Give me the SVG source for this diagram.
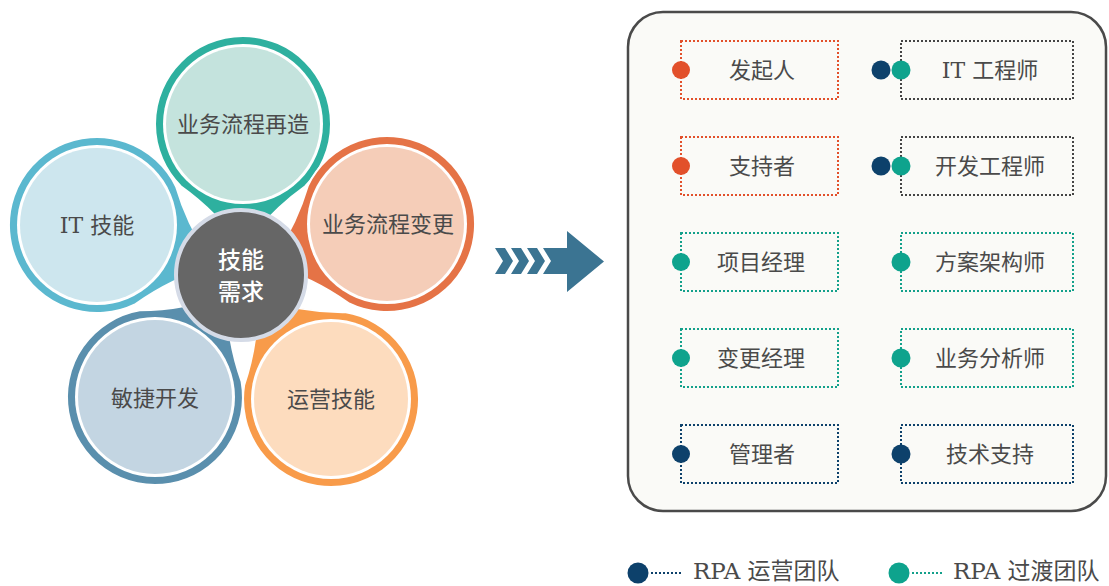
<svg xmlns="http://www.w3.org/2000/svg" width="1109" height="586" viewBox="0 0 1109 586">
<defs>
<style>
.lbl{font-family:"DejaVu Serif","Noto Sans CJK SC",serif;font-size:22px;fill:#4a4a4a;text-anchor:middle}
.ctr{font-family:"Noto Sans CJK SC",sans-serif;font-size:23px;fill:#ffffff;text-anchor:middle;font-weight:500}
.box{fill:none;stroke-width:2;stroke-dasharray:2 2}
.red{stroke:#e2502b}
.gry{stroke:#444444}
.tea{stroke:#13a08b}
.nav{stroke:#0d416b}
.petal{stroke:#ffffff;stroke-width:2}
.wr{fill:#ffffff}
.leg{font-family:"DejaVu Serif","Noto Sans CJK SC",serif;font-size:23px;fill:#4a4a4a}
</style>
<path id="pt" d="M62.2,-62.2 A88,88 0 1,0 62.2,62.2 Q88,26 125,0 Q88,-26 62.2,-62.2 Z"/>
</defs>

<g id="petal-top">
<use href="#pt" class="petal" fill="#2eb09f" transform="translate(243,124) rotate(90)"/>
<circle cx="243" cy="124" r="80" class="wr"/>
<circle cx="243" cy="124" r="77" fill="#c4e3dd"/>
<text x="243" y="132" class="lbl">业务流程再造</text>
</g>
<g id="petal-it">
<use href="#pt" class="petal" fill="#5bb8cf" transform="translate(97,225) rotate(19)"/>
<circle cx="97" cy="225" r="80" class="wr"/>
<circle cx="97" cy="225" r="77" fill="#cde6ee"/>
<text x="97" y="233" class="lbl">IT 技能</text>
</g>
<g id="petal-change">
<use href="#pt" class="petal" fill="#e57346" transform="translate(387,224) rotate(161)"/>
<circle cx="387" cy="224" r="80" class="wr"/>
<circle cx="387" cy="224" r="77" fill="#f5cdb8"/>
<text x="388" y="232" class="lbl">业务流程变更</text>
</g>
<g id="petal-agile">
<use href="#pt" class="petal" fill="#5a8fad" transform="translate(155,397) rotate(-55)"/>
<circle cx="155" cy="397" r="80" class="wr"/>
<circle cx="155" cy="397" r="77" fill="#c3d5e2"/>
<text x="155" y="406" class="lbl">敏捷开发</text>
</g>
<g id="petal-ops">
<use href="#pt" class="petal" fill="#f89b4a" transform="translate(331,399) rotate(-126)"/>
<circle cx="331" cy="399" r="80" class="wr"/>
<circle cx="331" cy="399" r="77" fill="#fddcbe"/>
<text x="331" y="407" class="lbl">运营技能</text>
</g>
<g id="center">
<circle cx="241" cy="275" r="65" fill="#666666" stroke="#d5dbe7" stroke-width="4"/>
<text x="241" y="268" class="ctr">技能</text>
<text x="241" y="300" class="ctr">需求</text>
</g>

<g id="arrow" fill="#3b7492">
<polygon points="495,248 505,248 513,261 505,274 495,274 503,261"/>
<polygon points="511,248 521,248 529,261 521,274 511,274 519,261"/>
<polygon points="527,248 537,248 545,261 537,274 527,274 535,261"/>
<polygon points="543,248 567,248 567,231 604,261.5 567,292 567,274 543,274 551,261"/>
</g>

<g id="panel">
<rect x="628" y="12" width="478" height="499" rx="35" ry="35" fill="#fafaf7" stroke="#4a4a4a" stroke-width="2.5"/>
</g>

<g id="connectors"></g>

<g id="n-faqiren">
<rect x="681" y="41" width="157" height="58" class="box red"/>
<circle cx="681" cy="70" r="9" fill="#e2502b"/>
<text x="762" y="78" class="lbl">发起人</text>
</g>
<g id="n-zhichizhe">
<rect x="681" y="137" width="157" height="58" class="box red"/>
<circle cx="681" cy="166" r="9" fill="#e2502b"/>
<text x="762" y="174" class="lbl">支持者</text>
</g>
<g id="n-xiangmu">
<rect x="681" y="233" width="157" height="58" class="box tea"/>
<circle cx="681" cy="262" r="9" fill="#0ea38d"/>
<text x="761" y="270" class="lbl">项目经理</text>
</g>
<g id="n-biangeng">
<rect x="681" y="329" width="157" height="58" class="box tea"/>
<circle cx="681" cy="358" r="9" fill="#0ea38d"/>
<text x="761" y="366" class="lbl">变更经理</text>
</g>
<g id="n-guanli">
<rect x="681" y="425" width="157" height="58" class="box nav"/>
<circle cx="681" cy="454" r="9" fill="#0d416b"/>
<text x="762" y="462" class="lbl">管理者</text>
</g>

<g id="n-it">
<rect x="901" y="41" width="172" height="58" class="box gry"/>
<circle cx="881" cy="70" r="9.5" fill="#0d416b"/>
<circle cx="901" cy="70" r="9.5" fill="#0ea38d"/>
<text x="990" y="78" class="lbl">IT 工程师</text>
</g>
<g id="n-dev">
<rect x="901" y="137" width="172" height="58" class="box gry"/>
<circle cx="881" cy="166" r="9.5" fill="#0d416b"/>
<circle cx="901" cy="166" r="9.5" fill="#0ea38d"/>
<text x="990" y="174" class="lbl">开发工程师</text>
</g>
<g id="n-arch">
<rect x="901" y="233" width="172" height="58" class="box tea"/>
<circle cx="901" cy="262" r="9.5" fill="#0ea38d"/>
<text x="990" y="270" class="lbl">方案架构师</text>
</g>
<g id="n-ba">
<rect x="901" y="329" width="172" height="58" class="box tea"/>
<circle cx="901" cy="358" r="9.5" fill="#0ea38d"/>
<text x="990" y="366" class="lbl">业务分析师</text>
</g>
<g id="n-tech">
<rect x="901" y="425" width="172" height="58" class="box nav"/>
<circle cx="901" cy="454" r="9.5" fill="#0d416b"/>
<text x="990" y="462" class="lbl">技术支持</text>
</g>

<g id="legend">
<circle cx="638" cy="573" r="10.5" fill="#0d416b"/>
<line x1="651" y1="573" x2="683" y2="573" class="box nav"/>
<text x="693" y="579" class="leg">RPA 运营团队</text>
<circle cx="899" cy="573" r="10.5" fill="#0ea38d"/>
<line x1="912" y1="573" x2="944" y2="573" class="box tea"/>
<text x="953" y="579" class="leg">RPA 过渡团队</text>
</g>
</svg>
